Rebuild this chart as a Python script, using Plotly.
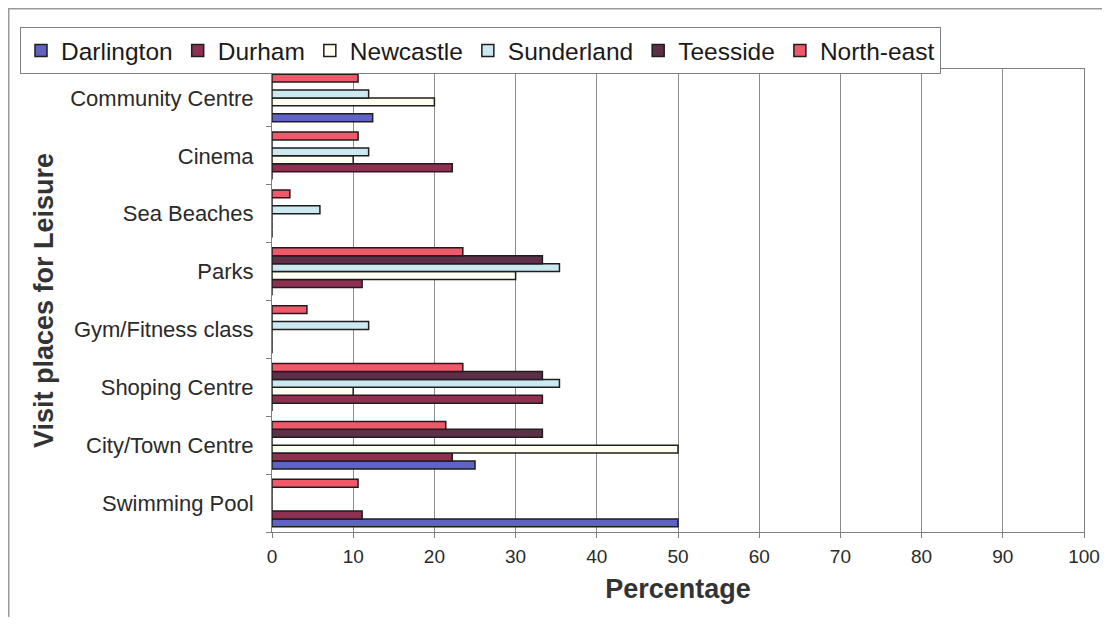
import plotly.graph_objects as go

# Categories listed bottom-to-top (as they appear on the y axis)
categories = ["Swimming Pool", "City/Town Centre", "Shoping Centre", "Gym/Fitness class",
              "Parks", "Sea Beaches", "Cinema", "Community Centre"]

darlington = [50, 25, 0, 0, 0, 0, 0, 12.4]
durham     = [11.1, 22.2, 33.3, 0, 11.1, 0, 22.2, 0]
newcastle  = [0, 50, 10, 0, 30, 0, 10, 20]
sunderland = [0, 0, 35.4, 11.9, 35.4, 5.9, 11.9, 11.9]
teesside   = [0, 33.3, 33.3, 0, 33.3, 0, 0, 0]
north_east = [10.6, 21.4, 23.5, 4.3, 23.5, 2.2, 10.6, 10.6]

series_names = ["Darlington", "Durham", "Newcastle", "Sunderland", "Teesside", "North-east"]
series_values = [darlington, durham, newcastle, sunderland, teesside, north_east]
series_colors = ["#5f63c4", "#8e3052", "#fffff2", "#cce8f0", "#5e2f48", "#f0596a"]

x_ticks = [0, 10, 20, 30, 40, 50, 60, 70, 80, 90, 100]

# The page body has an 8px margin on every side: keep the page within 1110x625
OFF = 8
W, H = 1110 - 2 * OFF, 625 - 2 * OFF
L, T = 272 - OFF, 69 - OFF
R = W - (1084 - OFF)
B = H - (532 - OFF)
pw, ph = W - L - R, H - T - B

def px_x(p):
    return (p - OFF - L) / pw

def px_y(p):
    return (H - B - (p - OFF)) / ph

FONT = "Liberation Sans, Arial, sans-serif"

fig = go.Figure()
for name, vals, col in zip(series_names, series_values, series_colors):
    fig.add_trace(go.Bar(
        y=categories, x=vals, name=name, orientation="h",
        marker=dict(color=col, line=dict(color="#1e1e1e", width=1.5)),
    ))

fig.update_layout(
    width=W, height=H,
    margin=dict(l=L, r=R, t=T, b=B, pad=0),
    paper_bgcolor="white", plot_bgcolor="white",
    barmode="group", bargap=0.18, bargroupgap=0,
    font=dict(family=FONT, color="#222222"),
    legend=dict(
        orientation="h", x=px_x(20), y=px_y(27), xanchor="left", yanchor="top",
        font=dict(size=24.5, family=FONT, color="#1a1a1a"),
        bordercolor="#7f7f7f", borderwidth=1, bgcolor="white",
        itemwidth=30, traceorder="normal",
    ),
    showlegend=True,
)

fig.update_xaxes(
    range=[0, 100], tickvals=x_ticks, ticktext=[str(v) for v in x_ticks],
    automargin=False,
    showgrid=True, gridcolor="#8c8c8c", gridwidth=1,
    showline=True, linecolor="#7f7f7f", linewidth=1, mirror=True,
    ticks="outside", ticklen=5, tickcolor="#7f7f7f",
    tickfont=dict(size=19, family=FONT, color="#2a2a2a"),
    ticklabelstandoff=2, ticklabeloverflow="allow",
    zeroline=False,
    title=dict(text="<b>Percentage</b>", font=dict(size=27, family=FONT, color="#333333"), standoff=13),
)
fig.update_yaxes(
    type="category", categoryorder="array", categoryarray=categories,
    automargin=False,
    showgrid=False,
    showline=True, linecolor="#7f7f7f", linewidth=1, mirror=True,
    ticks="outside", ticklen=5, tickcolor="#7f7f7f", tickson="boundaries",
    tickfont=dict(size=22, family=FONT, color="#2a2a2a"),
    ticklabelstandoff=13,
    title=dict(text="<b>Visit places for Leisure</b>", font=dict(size=27, family=FONT, color="#333333"), standoff=8),
)

# outer chart frame (partly cut off at right/bottom in the original)
fig.add_shape(type="rect", xref="paper", yref="paper",
              x0=px_x(8.75), x1=px_x(1125), y0=px_y(640), y1=px_y(8.75),
              line=dict(color="#9a9a9a", width=1.5), fillcolor="rgba(0,0,0,0)", layer="below")

fig.write_html("out.html")
